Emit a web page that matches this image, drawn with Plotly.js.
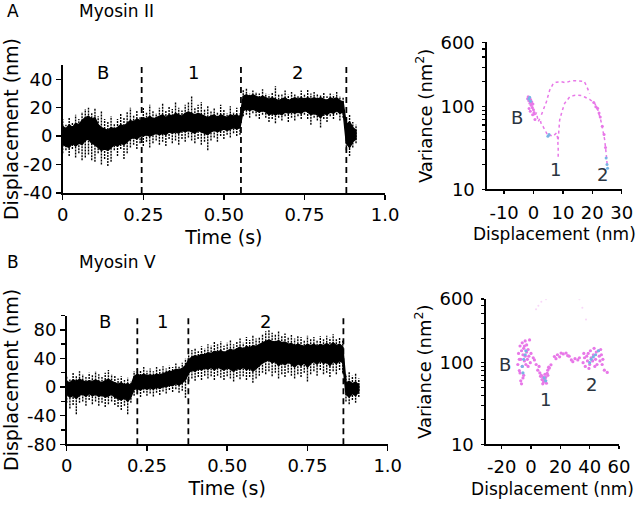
<!DOCTYPE html>
<html><head><meta charset="utf-8">
<script src="https://cdn.plot.ly/plotly-3.0.1.min.js"></script>
<style>html,body{margin:0;padding:0;background:#fff}#chart{width:640px;height:507px}</style>
</head><body><div id="chart"></div>
<script>
// ---- time axis (s) shared by both traces ----
const timeS = [0,0.01,0.02,0.03,0.04,0.05,0.06,0.07,0.08,0.09,0.10,0.11,0.12,0.13,0.14,0.15,0.16,0.17,0.18,0.19,0.20,0.21,0.22,0.23,0.24,0.25,0.26,0.27,0.28,0.29,0.30,0.31,0.32,0.33,0.34,0.35,0.36,0.37,0.38,0.39,0.40,0.41,0.42,0.43,0.44,0.45,0.46,0.47,0.48,0.49,0.50,0.51,0.52,0.53,0.54,0.55,0.56,0.57,0.58,0.59,0.60,0.61,0.62,0.63,0.64,0.65,0.66,0.67,0.68,0.69,0.70,0.71,0.72,0.73,0.74,0.75,0.76,0.77,0.78,0.79,0.80,0.81,0.82,0.83,0.84,0.85,0.86,0.87,0.88,0.89,0.90,0.91];

// ---- Myosin II displacement trace (nm): sparse outer spread and dense core ----
const myoIIOuterHi = [12,8,13,10,15,12,17,19,20,16,20,14,18,12,10,14,9,12,16,13,17,20,15,18,14,20,17,22,18,16,20,23,18,21,19,24,20,18,22,24,28,20,22,24,19,21,18,20,17,22,19,16,21,17,20,16,33,34,30,32,31,30,33,30,29,31,35,29,30,32,29,31,30,28,32,29,33,30,31,30,29,31,28,30,29,31,28,27,12,15,10,8];
const myoIIOuterLo = [-12,-10,-14,-9,-15,-12,-17,-15,-13,-17,-18,-12,-20,-16,-21,-18,-10,-14,-9,-16,-12,-8,-6,-9,-5,-7,-4,-8,-5,-3,-6,-4,-7,-2,-5,-3,-6,-2,-4,-1,-3,-5,-2,-6,-4,-10,-3,-1,-4,0,-2,1,-1,2,0,1,14,15,13,16,14,12,15,13,10,12,9,13,11,14,10,13,11,14,12,15,12,8,13,11,6,12,10,14,12,15,11,13,-10,-14,-8,-5];
const myoIICoreHi = [7,5,8,6,9,8,11,13,14,12,13,8,6,5,4,6,5,6,8,7,9,11,10,12,11,13,12,14,12,13,14,15,13,15,14,16,15,14,16,17,16,15,16,15,14,13,14,15,13,15,14,13,15,14,15,13,28,29,28,29,28,27,28,27,26,27,26,25,26,27,25,26,27,26,27,26,27,26,27,26,27,26,25,27,26,27,25,24,8,10,6,4];
const myoIICoreLo = [-6,-7,-8,-5,-7,-5,-6,-3,-2,-5,-6,-8,-10,-9,-10,-8,-6,-7,-5,-6,-4,-2,-1,-2,0,0,1,0,1,2,1,2,1,3,2,3,2,4,3,4,3,2,4,3,2,1,3,4,3,4,5,4,5,6,5,6,18,19,18,19,18,17,18,17,15,16,15,16,15,17,16,17,16,17,16,18,17,15,16,15,13,16,15,17,16,18,16,17,-5,-8,-4,-2];
const myoIIBounds = [0.245, 0.553, 0.88];

// ---- Myosin V displacement trace (nm) ----
const myoVOuterHi = [15,12,20,16,22,18,14,20,17,22,18,14,20,24,18,16,12,15,10,13,8,22,27,24,28,23,26,22,28,25,29,26,30,28,33,30,34,40,45,52,55,50,57,54,60,58,63,60,64,58,62,66,60,64,68,62,70,66,72,68,70,74,78,80,76,74,78,72,75,70,73,68,72,70,66,72,68,70,66,71,68,72,69,74,68,70,65,18,22,16,20,12];
const myoVOuterLo = [-22,-30,-25,-38,-22,-20,-26,-18,-24,-20,-26,-22,-28,-24,-20,-25,-28,-32,-26,-38,-22,-12,-10,-14,-8,-12,-9,-13,-8,-11,-6,-9,-4,-7,-3,-8,-5,-15,8,12,9,14,10,16,12,15,10,16,13,10,15,12,8,14,11,15,10,14,6,12,16,20,18,22,15,20,12,18,14,20,16,12,18,14,20,8,18,22,16,24,18,20,14,22,18,24,20,-20,-24,-18,-22,-14];
const myoVCoreHi = [8,6,10,8,11,9,7,9,8,10,8,6,9,11,8,6,4,6,3,5,2,15,18,16,18,16,17,16,18,17,19,20,22,22,25,24,26,30,38,42,44,43,46,45,48,47,50,49,51,48,50,53,51,54,56,53,57,55,58,57,60,62,64,66,64,63,65,62,63,60,61,58,60,59,57,60,58,60,57,60,58,61,58,62,58,60,56,6,8,5,7,3];
const myoVCoreLo = [-10,-14,-12,-16,-11,-10,-13,-9,-12,-10,-13,-11,-14,-12,-10,-14,-16,-18,-15,-20,-14,-3,-2,-4,-1,-3,-1,-3,0,-2,1,0,3,2,5,3,6,10,20,24,22,26,24,27,25,28,24,28,26,24,27,25,22,26,25,28,24,27,22,26,30,34,36,38,34,36,30,34,31,35,32,28,33,30,34,28,33,36,32,37,33,35,30,36,33,37,34,-10,-14,-9,-12,-6];
const myoVBounds = [0.22, 0.379, 0.862];

// ---- Variance vs displacement, Myosin II (nm, nm^2) ----
const varIIOuterX = [2.7,3.8,4.4,5.5,6.7,7.8,9.5,11,12.5,14,15.5,17.2,18,18.6,19.1];
const varIIOuterY = [80,100,115,158,190,198,200,195,204,206,205,203,180,158,144];
const varIIInnerX = [8.4,8.9,9.8,10.6,12.3,13.8,15.2,16.5,17.4,19.2,20.8,21.9,23.1,24.2,24.8,25.1];
const varIIInnerY = [40,69,90,110,131,137,138,136,131,122,110,91,64,40,25.5,19];
const varIIBranchX = [-0.5,0.4,1.0,1.6,2.2,2.7,3.2,3.8,4.5,5.0,5.8,6.7,7.8,8.2,8.4,8.4];
const varIIBranchY = [100,76,85,66,72,60,58,53,46,44,45,44,48,42,32,24];
const varIIDotsX = [-2.0,-1.8,-1.6,-1.4,-1.2,-1.0,-0.8,-0.6,-0.4,-0.2,0,0.2,-1.5,-1.1,-0.7,-0.3,0.5,20.5,21.2,21.8,22.3,22.7,23.4,24.0,24.5];
const varIIDotsY = [125,132,118,128,110,122,104,115,98,108,92,85,95,88,112,80,70,112,100,96,84,75,58,46,32];
const varIIBlueX = [-1.6,-1.3,-1.0,4.9,5.3,24.7,25.0,25.2];
const varIIBlueY = [124,130,116,44,46,24,20,18];

// ---- Variance vs displacement, Myosin V ----
const varVDotsX = [-9,-8.5,-8,-7.5,-7,-7,-6.5,-6,-6,-5.5,-5,-5,-4.5,-4,-4,-3.5,-3,-3,-2.5,-2,-1.5,-1,-0.5,0,-6.5,-7.5,-8,-5.5,-4.5,-2,
  1.5,2.3,3.5,4.6,5.5,6,7,7.5,8,8.5,9.1,9.5,10,10.5,11,11.4,12,12.5,13.6,6.5,8,10,11.5,
  15.9,17,18,19.5,20.5,22,23.9,25,26,27.5,28.5,30,31.9,33,
  35.5,36.5,37,38,38.5,39,40,40.5,41,42,42.5,43,44,44.5,45,46,46.5,47,48,48.5,49,36,39.5,43.5,47.5,50,52];
const varVDotsY = [95,130,80,160,110,60,140,175,90,125,150,70,105,185,120,95,165,135,110,145,120,190,100,130,55,75,110,65,160,90,
  115,108,95,81,90,75,70,62,67,58,61,72,66,56,74,81,88,86,94,68,55,60,70,
  119,112,125,118,131,128,131,122,120,108,103,112,108,115,
  100,115,90,120,105,130,95,140,115,105,125,150,110,135,95,140,120,105,125,95,110,130,85,90,145,81,76];
const varVBlueX = [-5,-4,-6,-3.5,-5.5,9,10,41,44,46,40,42.5];
const varVBlueY = [110,125,90,140,75,65,60,110,125,140,100,118];
const varVFaintX = [3.4,5,7,10.2,33,35,37.5];
const varVFaintY = [451,500,560,600,600,470,339];

// ---- tick values and labels ----
const timeTicks = [0,0.25,0.5,0.75,1];
const timeTickText = ['0','0.25','0.50','0.75','1.0'];
const dispIITicks = [-40,-20,0,20,40];
const dispIITickText = ['-40','-20','0','20','40'];
const dispVTicks = [-80,-40,0,40,80];
const dispVTickText = ['-80','-40','0','40','80'];
const varIIXTicks = [-10,0,10,20,30];
const varIIXTickText = ['-10','0','10','20','30'];
const varVXTicks = [-20,0,20,40,60];
const varVXTickText = ['-20','0','20','40','60'];
const varTicks = [10,100,600];
const varTickText = ['10','100','600'];
const varMinor = [20,30,40,50,60,70,80,90,200,300,400,500];

const FONT = '"DejaVu Sans", sans-serif';
const PINK = 'rgb(232,120,232)';
const BLUE = 'rgb(120,180,228)';
const TICK = 18, TITLE = 19;

function band(t, lo, hi){
  return {x: t.concat(t.slice().reverse()), y: hi.concat(lo.slice().reverse())};
}
function streaks(t, lo, hi){
  const x = [], y = [];
  t.forEach((v, i) => { x.push(v, v, null); y.push(lo[i], hi[i], null); });
  return {x, y};
}
const bIIc = band(timeS, myoIICoreLo, myoIICoreHi);
const bVc = band(timeS, myoVCoreLo, myoVCoreHi);
const sII = streaks(timeS, myoIIOuterLo, myoIIOuterHi);
const sV = streaks(timeS, myoVOuterLo, myoVOuterHi);

const traces = [
  {x:sII.x, y:sII.y, xaxis:'x', yaxis:'y', mode:'lines', line:{color:'#000', width:1.4, dash:'2px,1px'}, connectgaps:false},
  {x:bIIc.x, y:bIIc.y, xaxis:'x', yaxis:'y', mode:'lines', fill:'toself', fillcolor:'#000', line:{width:1.4,color:'#000'}},
  {x:sV.x, y:sV.y, xaxis:'x2', yaxis:'y2', mode:'lines', line:{color:'#000', width:1.4, dash:'2px,1px'}, connectgaps:false},
  {x:bVc.x, y:bVc.y, xaxis:'x2', yaxis:'y2', mode:'lines', fill:'toself', fillcolor:'#000', line:{width:1.4,color:'#000'}},

  {x:varIIOuterX, y:varIIOuterY, xaxis:'x3', yaxis:'y3', mode:'lines', line:{color:PINK, width:1.5, dash:'dot'}},
  {x:varIIInnerX, y:varIIInnerY, xaxis:'x3', yaxis:'y3', mode:'lines', line:{color:PINK, width:1.5, dash:'dot'}},
  {x:varIIBranchX, y:varIIBranchY, xaxis:'x3', yaxis:'y3', mode:'lines', line:{color:PINK, width:1.5, dash:'dot'}},
  {x:varIIDotsX, y:varIIDotsY, xaxis:'x3', yaxis:'y3', mode:'markers', marker:{color:PINK, size:3}},
  {x:varIIBlueX, y:varIIBlueY, xaxis:'x3', yaxis:'y3', mode:'markers', marker:{color:BLUE, size:3}},

  {x:varVFaintX, y:varVFaintY, xaxis:'x4', yaxis:'y4', mode:'markers', marker:{color:PINK, size:2, opacity:0.3}},
  {x:varVDotsX, y:varVDotsY, xaxis:'x4', yaxis:'y4', mode:'markers', marker:{color:PINK, size:3.2}},
  {x:varVBlueX, y:varVBlueY, xaxis:'x4', yaxis:'y4', mode:'markers', marker:{color:BLUE, size:3.2}}
];

const axBase = {showgrid:false, zeroline:false, showline:true, linecolor:'#000', linewidth:1.6, tickangle:0,
  ticks:'outside', tickcolor:'#000', tickwidth:1.4, ticklen:5, tickfont:{family:FONT, size:TICK, color:'#000'}, fixedrange:true};
const titleFont = {family:FONT, size:TITLE, color:'#000'};

function vlines(bounds, xref, yref){
  return bounds.map(b => ({type:'line', xref:xref, yref:yref+' domain', x0:b, x1:b, y0:0, y1:1,
    line:{color:'#000', width:1.8, dash:'6px,4px'}}));
}
const lab = {family:FONT, size:18, color:'#000'};
const lab2 = {family:FONT, size:18, color:'#2a3440'};

const layout = {
  width:640, height:507, margin:{l:0,r:0,t:0,b:0}, showlegend:false,
  paper_bgcolor:'#fff', plot_bgcolor:'rgba(0,0,0,0)', font:{family:FONT, color:'#000'},
  xaxis: Object.assign({}, axBase, {domain:[0.098,0.6016], range:[0,1], anchor:'y',
    tickmode:'array', tickvals:timeTicks, ticktext:timeTickText,
    title:{text:'Time (s)', font:titleFont, standoff:6}}),
  yaxis: Object.assign({}, axBase, {domain:[0.6193,0.8718], range:[-40,50], anchor:'x',
    tickmode:'array', tickvals:dispIITicks, ticktext:dispIITickText, ticklabelstandoff:0,
    title:{text:'Displacement (nm)', font:titleFont, standoff:5}}),
  xaxis2: Object.assign({}, axBase, {domain:[0.1042,0.6058], range:[0,1], anchor:'y2',
    tickmode:'array', tickvals:timeTicks, ticktext:timeTickText,
    title:{text:'Time (s)', font:titleFont, standoff:6}}),
  yaxis2: Object.assign({}, axBase, {domain:[0.1237,0.3775], range:[-80,100], anchor:'x2',
    tickmode:'array', tickvals:dispVTicks, ticktext:dispVTickText, ticklabelstandoff:0,
    minor:{ticks:'outside', tickmode:'array', tickvals:[-60,-20,20,60,100], ticklen:4, tickcolor:'#000', tickwidth:1.4},
    title:{text:'Displacement (nm)', font:titleFont, standoff:5}}),
  xaxis3: Object.assign({}, axBase, {domain:[0.761,0.9714], range:[-15.8,30], anchor:'y3', ticklen:3,
    tickmode:'array', tickvals:varIIXTicks, ticktext:varIIXTickText, ticklabelstandoff:3,
    title:{text:'Displacement (nm)', font:{family:FONT, size:17, color:'#000'}, standoff:6}}),
  yaxis3: Object.assign({}, axBase, {domain:[0.6266,0.9164], type:'log', range:[1, Math.log10(600)], anchor:'x3', ticklen:3,
    tickmode:'array', tickvals:varTicks, ticktext:varTickText, ticklabelstandoff:4,
    minor:{ticks:'outside', tickmode:'array', tickvals:varMinor, ticklen:3, tickcolor:'#000', tickwidth:1.2},
    title:{text:'Variance (nm<sup>2</sup>)', font:{family:FONT, size:18, color:'#000'}, standoff:3}}),
  xaxis4: Object.assign({}, axBase, {domain:[0.7594,0.9672], range:[-30.7,60], anchor:'y4', ticklen:3,
    tickmode:'array', tickvals:varVXTicks, ticktext:varVXTickText, ticklabelstandoff:3,
    title:{text:'Displacement (nm)', font:{family:FONT, size:17, color:'#000'}, standoff:6}}),
  yaxis4: Object.assign({}, axBase, {domain:[0.1237,0.4099], type:'log', range:[1, Math.log10(600)], anchor:'x4', ticklen:3,
    tickmode:'array', tickvals:varTicks, ticktext:varTickText, ticklabelstandoff:4,
    minor:{ticks:'outside', tickmode:'array', tickvals:varMinor, ticklen:3, tickcolor:'#000', tickwidth:1.2},
    title:{text:'Variance (nm<sup>2</sup>)', font:{family:FONT, size:18, color:'#000'}, standoff:3}}),
  shapes: vlines(myoIIBounds,'x','y').concat(vlines(myoVBounds,'x2','y2')),
  annotations: [
    {text:'A', xref:'paper', yref:'paper', x:0.0203, y:1-11/507, xanchor:'center', yanchor:'middle', showarrow:false, font:{family:FONT,size:17}},
    {text:'Myosin II', xref:'paper', yref:'paper', x:77/640, y:1-11/507, xanchor:'left', yanchor:'middle', showarrow:false, font:{family:FONT,size:17}},
    {text:'B', xref:'paper', yref:'paper', x:0.0203, y:1-262/507, xanchor:'center', yanchor:'middle', showarrow:false, font:{family:FONT,size:17}},
    {text:'Myosin V', xref:'paper', yref:'paper', x:77/640, y:1-262/507, xanchor:'left', yanchor:'middle', showarrow:false, font:{family:FONT,size:17}},
    {text:'B', xref:'x', yref:'y', x:0.125, y:45, showarrow:false, font:lab},
    {text:'1', xref:'x', yref:'y', x:0.405, y:45, showarrow:false, font:lab},
    {text:'2', xref:'x', yref:'y', x:0.727, y:45, showarrow:false, font:lab},
    {text:'B', xref:'x2', yref:'y2', x:0.119, y:92, showarrow:false, font:lab},
    {text:'1', xref:'x2', yref:'y2', x:0.30, y:92, showarrow:false, font:lab},
    {text:'2', xref:'x2', yref:'y2', x:0.62, y:92, showarrow:false, font:lab},
    {text:'B', xref:'x3', yref:'y3', x:-5.6, y:1.87, showarrow:false, font:lab2},
    {text:'1', xref:'x3', yref:'y3', x:7.5, y:1.24, showarrow:false, font:lab2},
    {text:'2', xref:'x3', yref:'y3', x:23.3, y:1.18, showarrow:false, font:lab2},
    {text:'B', xref:'x4', yref:'y4', x:-17.7, y:1.978, showarrow:false, font:lab2},
    {text:'1', xref:'x4', yref:'y4', x:9.6, y:1.543, showarrow:false, font:lab2},
    {text:'2', xref:'x4', yref:'y4', x:41, y:1.727, showarrow:false, font:lab2}
  ]
};

Plotly.newPlot('chart', traces, layout, {staticPlot:true, displayModeBar:false});
</script></body></html>
